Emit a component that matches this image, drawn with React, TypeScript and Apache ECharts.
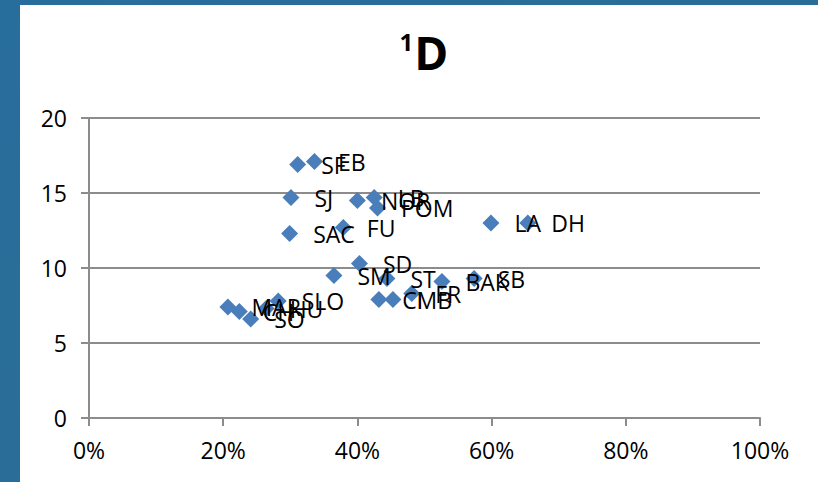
import React, { useEffect, useRef } from "react";
import * as echarts from "echarts";

const campusNames = ["SF","EB","SJ","NOR","LB","POM","SAC","FU","LA","DH","SD","SM","ST","FR","BAK","SB","CI","MB","MAR","CH","HU","SLO","SO"];
const shareValues = [0.311,0.336,0.301,0.400,0.425,0.430,0.299,0.379,0.599,0.654,0.403,0.365,0.444,0.481,0.526,0.574,0.432,0.453,0.207,0.224,0.264,0.282,0.241];
const dValues = [16.9,17.1,14.7,14.5,14.7,14.0,12.3,12.7,13.0,13.0,10.3,9.5,9.3,8.3,9.1,9.3,7.9,7.9,7.4,7.1,7.3,7.8,6.6];
const xTicks = [0, 0.2, 0.4, 0.6, 0.8, 1];
const yTicks = [0, 5, 10, 15, 20];

const FONT = "'Open Sans', 'Noto Sans', sans-serif";

export default function App() {
  const ref = useRef<HTMLDivElement>(null);
  useEffect(() => {
    if (!ref.current) return;
    const chart = echarts.init(ref.current, null, { renderer: "svg" });
    const data = campusNames.map((n, i) => ({ name: n, value: [shareValues[i], dValues[i]] }));
    chart.setOption({
      animation: false,
      backgroundColor: "#ffffff",
      graphic: [
        {
          type: "rect",
          z: -10,
          shape: { x: 0, y: 0, width: 818, height: 482 },
          style: {
            fill: new echarts.graphic.LinearGradient(0, 0, 1, 1, [
              { offset: 0, color: "#286e9c" },
              { offset: 0.5, color: "#2a6d98" },
              { offset: 1, color: "#3a90c4" },
            ]),
          },
          silent: true,
        },
        {
          type: "rect",
          z: -9,
          shape: { x: 20, y: 5, width: 798, height: 477 },
          style: { fill: "#ffffff" },
          silent: true,
        },
      ],
      title: {
        text: "{sup|1}{d|D}",
        left: 419,
        textAlign: "center",
        top: 24,
        textStyle: {
          rich: {
            sup: { fontFamily: FONT, fontWeight: "bold", fontSize: 24, color: "#000", verticalAlign: "top", padding: [0, 1, 18, 0] },
            d: { fontFamily: FONT, fontWeight: "bold", fontSize: 46, color: "#000" },
          },
        },
      },
      grid: { left: 89, right: 58, top: 118, bottom: 64, containLabel: false },
      xAxis: {
        type: "value",
        min: xTicks[0],
        max: xTicks[xTicks.length - 1],
        interval: 0.2,
        axisLine: { show: true, onZero: false, lineStyle: { color: "#8c8c8c", width: 2 } },
        axisTick: { show: true, length: 8, lineStyle: { color: "#8c8c8c", width: 2 } },
        splitLine: { show: false },
        axisLabel: {
          fontFamily: FONT,
          fontSize: 23,
          color: "#000",
          margin: 20,
          formatter: (v: number) => Math.round(v * 100) + "%",
        },
      },
      yAxis: {
        type: "value",
        min: yTicks[0],
        max: yTicks[yTicks.length - 1],
        interval: 5,
        axisLine: { show: true, onZero: false, lineStyle: { color: "#8c8c8c", width: 2 } },
        axisTick: { show: true, length: 8, lineStyle: { color: "#8c8c8c", width: 2 } },
        splitLine: { show: true, lineStyle: { color: "#8c8c8c", width: 2 } },
        axisLabel: { fontFamily: FONT, fontSize: 23, color: "#000", margin: 22 },
      },
      series: [
        {
          type: "scatter",
          symbol: "diamond",
          symbolSize: 17,
          itemStyle: { color: "#4a7ebb", opacity: 1 },
          data,
          label: {
            show: true,
            position: "right",
            distance: 15,
            formatter: "{b}",
            fontFamily: FONT,
            fontSize: 23,
            color: "#000",
          },
          labelLayout: { hideOverlap: false },
        },
      ],
    });
    return () => chart.dispose();
  }, []);
  return (
    <div
      ref={ref}
      style={{ position: "absolute", left: 0, top: 0, width: 818, height: 482 }}
    />
  );
}
